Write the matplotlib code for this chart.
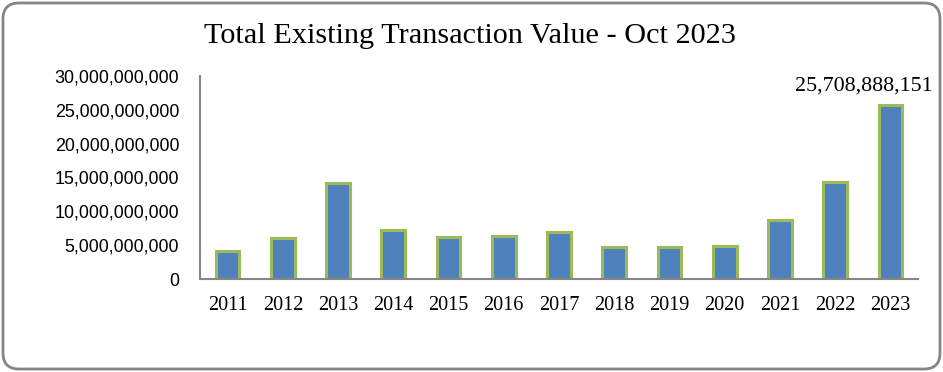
import matplotlib
matplotlib.use("Agg")
import matplotlib.pyplot as plt
from matplotlib.patches import FancyBboxPatch
from matplotlib.ticker import FuncFormatter

years = ["2011", "2012", "2013", "2014", "2015", "2016", "2017",
         "2018", "2019", "2020", "2021", "2022", "2023"]
values = [4.2e9, 6.0e9, 14.2e9, 7.2e9, 6.2e9, 6.3e9, 6.9e9,
          4.7e9, 4.7e9, 4.9e9, 8.7e9, 14.3e9, 25708888151]
title = "Total Existing Transaction Value - Oct 2023"
label_text = "25,708,888,151"

W, H = 943, 372
fig = plt.figure(figsize=(W / 100, H / 100), dpi=100)

# background frame in pixel coordinates
bg = fig.add_axes([0, 0, 1, 1])
bg.set_xlim(0, W)
bg.set_ylim(H, 0)
bg.axis("off")
border = FancyBboxPatch((3, 3), 937, 366,
                        boxstyle="round,pad=0,rounding_size=16",
                        facecolor="white", edgecolor="#858585",
                        linewidth=2.0)
bg.add_patch(border)

ax = fig.add_axes([200 / W, (H - 279) / H, 718 / W, 203 / H])
ax.patch.set_alpha(0)
x = list(range(len(years)))
ax.bar(x, values, width=0.43, color="#4F81BD", edgecolor="#9BBB59",
       linewidth=2.2)
ax.set_xlim(-0.5, len(years) - 0.5)
ax.set_ylim(0, 30e9)
ax.set_yticks([0, 5e9, 10e9, 15e9, 20e9, 25e9, 30e9])
ax.yaxis.set_major_formatter(FuncFormatter(lambda v, p: f"{int(v):,}"))
ax.set_xticks(x)
ax.set_xticklabels(years, family="Liberation Serif", fontsize=14.6)
for lab in ax.get_yticklabels():
    lab.set_family("Liberation Sans")
    lab.set_fontsize(12.9)
ax.tick_params(axis="both", length=0)
ax.tick_params(axis="x", pad=12)
ax.tick_params(axis="y", pad=15)
for s in ["top", "right"]:
    ax.spines[s].set_visible(False)
for s in ["left", "bottom"]:
    ax.spines[s].set_color("#868686")
    ax.spines[s].set_linewidth(1.5)

ax.text(len(years) - 1.49, 28.5e9, label_text, ha="center", va="center",
        family="Liberation Serif", fontsize=15.8)

fig.text(470 / W, (H - 36) / H, title, ha="center", va="center",
         family="Liberation Serif", fontsize=21.8)

fig.savefig("out.png", dpi=100)
